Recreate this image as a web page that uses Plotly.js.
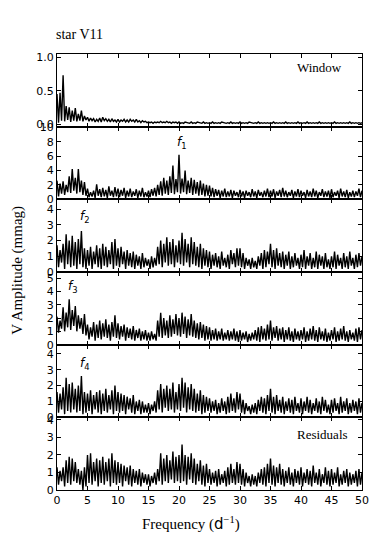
<!DOCTYPE html>
<html>
<head>
<meta charset="utf-8">
<script src="https://cdn.plot.ly/plotly-3.0.1.min.js"></script>
<style>
    body { margin: 0; background: #fff; }
    #chart { width: 382px; height: 545px; }
</style>
</head>
<body>
<div id="chart"></div>
<script>
const freq_step = 0.25;

const window_amp = [
    0.45,0.02,0.47,0.05,0.73,0.04,0.27,0.06,0.25,0.03,0.20,0.05,0.24,0.04,0.15,0.05,0.20,0.04,0.12,0.06,
    0.10,0.04,0.09,0.05,0.08,0.03,0.07,0.04,0.09,0.03,0.10,0.05,0.08,0.04,0.07,0.03,0.08,0.04,0.06,0.03,
    0.07,0.03,0.06,0.04,0.07,0.03,0.06,0.03,0.07,0.04,0.06,0.03,0.07,0.03,0.05,0.02,0.05,0.03,0.04,0.02,
    0.03,0.02,0.03,0.01,0.03,0.02,0.03,0.02,0.04,0.02,0.03,0.02,0.04,0.02,0.03,0.01,0.03,0.02,0.03,0.01,
    0.03,0.01,0.02,0.01,0.03,0.02,0.02,0.01,0.03,0.01,0.02,0.01,0.03,0.02,0.02,0.01,0.03,0.01,0.02,0.01,
    0.02,0.01,0.03,0.01,0.02,0.01,0.02,0.01,0.03,0.02,0.02,0.01,0.02,0.01,0.03,0.01,0.02,0.01,0.02,0.01,
    0.03,0.01,0.02,0.01,0.02,0.01,0.03,0.02,0.02,0.01,0.02,0.01,0.03,0.01,0.02,0.01,0.02,0.01,0.02,0.01,
    0.02,0.01,0.03,0.01,0.02,0.01,0.02,0.01,0.02,0.01,0.03,0.01,0.02,0.01,0.02,0.01,0.02,0.01,0.03,0.01,
    0.02,0.01,0.02,0.01,0.03,0.01,0.02,0.01,0.02,0.01,0.02,0.01,0.03,0.01,0.02,0.01,0.02,0.01,0.02,0.01,
    0.02,0.01,0.03,0.01,0.02,0.01,0.02,0.01,0.02,0.01,0.02,0.01,0.03,0.01,0.02,0.01,0.02,0.01,0.02,0.01,
    0.02
];

const f1_amp = [
    2.6,0.4,2.2,0.8,2.5,0.6,2.0,1.0,3.2,0.9,4.2,1.2,3.0,0.8,4.2,1.0,2.6,0.6,2.4,0.5,
    1.5,0.3,1.0,0.4,1.2,0.2,2.1,0.5,1.4,0.3,1.6,0.4,1.3,0.2,1.8,0.5,1.2,0.3,1.7,0.4,
    1.5,0.3,1.3,0.5,1.6,0.2,1.2,0.4,1.5,0.3,1.1,0.5,1.4,0.2,1.2,0.4,1.6,0.3,1.0,0.4,
    1.2,0.3,1.4,0.5,1.6,0.4,2.0,0.6,2.5,0.5,3.0,0.8,2.6,0.6,3.2,0.9,4.7,0.7,2.8,1.0,
    6.2,0.8,2.9,1.0,4.0,0.7,2.6,0.9,3.0,0.6,2.7,0.8,2.4,0.5,2.6,0.6,2.2,0.4,2.0,0.5,
    1.9,0.4,1.6,0.3,1.4,0.5,1.3,0.2,1.2,0.4,1.5,0.3,1.1,0.4,1.3,0.2,1.2,0.5,1.0,0.3,
    1.3,0.4,1.1,0.2,1.2,0.5,1.0,0.3,1.4,0.4,1.1,0.2,1.3,0.5,1.0,0.3,1.2,0.4,1.5,0.3,
    1.2,0.4,1.4,0.2,1.1,0.5,1.3,0.3,1.6,0.4,1.2,0.3,1.0,0.5,1.3,0.2,1.1,0.4,1.4,0.3,
    1.2,0.5,1.0,0.2,1.3,0.4,1.1,0.3,1.5,0.4,1.2,0.2,1.0,0.5,1.4,0.3,1.1,0.4,1.2,0.2,
    1.4,0.3,1.0,0.5,1.2,0.2,1.5,0.4,1.1,0.3,1.3,0.2,1.0,0.4,1.2,0.3,1.1,0.5,1.5,0.3,
    1.2
];

const f2_amp = [
    1.7,0.3,1.4,0.6,1.8,0.2,2.4,0.5,2.0,0.3,2.3,0.4,1.9,0.2,2.1,0.5,2.6,0.3,1.5,0.2,
    1.4,0.4,1.6,0.2,1.3,0.5,1.7,0.3,1.5,0.2,1.8,0.4,1.6,0.3,1.4,0.5,1.9,0.2,2.1,0.4,
    1.5,0.3,1.6,0.5,1.3,0.2,1.4,0.4,1.2,0.3,1.3,0.2,1.1,0.4,1.0,0.2,1.2,0.3,0.9,0.4,
    0.8,0.2,1.0,0.3,0.9,0.4,1.6,0.5,2.0,0.3,1.8,0.6,2.2,0.4,1.9,0.5,2.1,0.3,1.7,0.6,
    2.0,0.5,2.5,0.4,2.1,0.6,1.8,0.3,2.2,0.5,1.9,0.4,1.6,0.3,1.8,0.2,1.5,0.4,1.4,0.3,
    1.3,0.2,1.1,0.4,1.2,0.3,1.0,0.2,1.3,0.4,0.9,0.3,1.1,0.2,1.4,0.5,1.2,0.3,1.5,0.4,
    1.5,0.3,1.2,0.2,0.9,0.4,0.8,0.2,0.9,0.3,0.7,0.2,1.0,0.4,1.2,0.2,1.4,0.3,1.3,0.5,
    1.8,0.3,1.4,0.2,1.5,0.4,1.2,0.3,1.3,0.2,1.1,0.4,1.3,0.2,1.0,0.3,1.2,0.4,0.9,0.2,
    1.1,0.3,1.4,0.2,1.0,0.4,1.2,0.2,0.9,0.3,1.3,0.2,1.1,0.4,1.0,0.2,1.2,0.3,0.8,0.2,
    1.0,0.3,1.3,0.2,1.1,0.4,0.9,0.2,1.2,0.3,1.0,0.2,1.3,0.4,0.9,0.2,1.1,0.3,1.2,0.4,
    1.0
];

const f3_amp = [
    2.1,0.9,1.8,1.2,2.8,1.0,2.4,1.3,3.4,1.1,2.6,1.4,2.9,1.0,2.2,1.2,2.0,0.8,2.3,0.7,
    1.5,0.4,1.3,0.6,1.7,0.3,1.5,0.5,1.8,0.4,1.6,0.6,1.9,0.5,1.5,0.3,1.7,0.6,2.2,0.5,
    1.6,0.4,1.4,0.6,1.5,0.3,1.3,0.5,1.2,0.4,1.4,0.3,1.1,0.5,1.2,0.3,1.0,0.4,1.1,0.3,
    0.9,0.3,1.0,0.4,0.8,0.3,1.8,0.6,2.4,0.5,2.0,0.7,1.8,0.5,2.2,0.6,1.9,0.8,2.3,0.7,
    2.0,0.6,2.4,0.8,2.1,0.5,1.9,0.7,2.3,0.6,1.8,0.5,1.6,0.4,1.7,0.5,1.5,0.3,1.4,0.4,
    1.3,0.3,1.1,0.4,1.2,0.3,1.0,0.4,1.2,0.3,0.9,0.4,1.1,0.3,1.0,0.4,1.2,0.3,1.0,0.2,
    1.1,0.3,0.9,0.4,1.0,0.2,0.8,0.3,0.9,0.4,1.1,0.3,1.3,0.2,1.4,0.4,1.2,0.3,1.5,0.4,
    1.8,0.3,1.3,0.5,1.4,0.3,1.2,0.4,1.3,0.2,1.1,0.4,1.3,0.3,1.0,0.2,1.2,0.4,1.0,0.3,
    1.1,0.4,1.3,0.2,1.0,0.3,1.2,0.4,1.4,0.3,1.1,0.2,1.3,0.4,1.0,0.3,1.2,0.2,0.9,0.3,
    1.1,0.4,1.3,0.2,1.0,0.3,1.2,0.4,1.4,0.3,1.0,0.2,1.1,0.4,0.9,0.3,1.2,0.2,1.3,0.4,
    1.1
];

const f4_amp = [
    1.6,0.3,1.5,0.5,1.9,0.2,2.5,0.4,2.1,0.3,2.2,0.5,1.8,0.3,2.0,0.4,2.6,0.2,1.6,0.3,
    1.5,0.4,1.7,0.2,1.4,0.5,1.6,0.3,1.7,0.2,1.5,0.4,1.8,0.3,1.4,0.5,1.7,0.2,2.0,0.4,
    1.6,0.3,1.5,0.4,1.4,0.2,1.3,0.5,1.2,0.3,1.4,0.2,1.0,0.4,1.1,0.2,1.0,0.3,0.8,0.3,
    0.9,0.2,0.8,0.4,1.0,0.3,1.7,0.5,2.1,0.3,1.8,0.6,2.0,0.4,1.8,0.5,2.2,0.3,1.6,0.5,
    2.1,0.4,2.5,0.6,2.2,0.3,1.9,0.5,2.1,0.4,1.8,0.3,1.5,0.4,1.7,0.2,1.4,0.3,1.3,0.4,
    1.2,0.3,1.0,0.4,1.1,0.2,0.9,0.3,1.2,0.4,1.0,0.2,1.3,0.3,1.5,0.4,1.2,0.3,1.6,0.5,
    1.5,0.3,1.1,0.2,0.9,0.4,0.7,0.2,0.8,0.3,0.9,0.2,1.1,0.4,1.3,0.3,1.2,0.2,1.4,0.4,
    1.8,0.3,1.3,0.2,1.4,0.4,1.1,0.3,1.3,0.2,1.0,0.4,1.2,0.3,1.1,0.2,1.3,0.4,0.9,0.3,
    1.2,0.2,1.0,0.4,1.3,0.3,1.1,0.2,0.9,0.4,1.2,0.3,1.0,0.2,1.3,0.4,1.1,0.3,0.8,0.2,
    1.1,0.3,1.2,0.4,0.9,0.2,1.3,0.3,1.0,0.4,1.2,0.2,0.9,0.3,1.1,0.4,1.0,0.2,1.2,0.3,
    0.9
];

const residual_amp = [
    1.3,0.3,1.1,0.5,1.3,0.2,1.7,0.4,1.9,0.3,1.8,0.5,1.6,0.4,1.2,0.3,1.1,0.0,1.3,0.2,
    2.0,0.4,2.1,0.3,1.6,0.5,1.8,0.2,1.7,0.4,1.9,0.3,1.6,0.5,1.8,0.2,2.1,0.4,1.7,0.3,
    1.6,0.4,1.5,0.2,1.4,0.5,1.3,0.3,1.4,0.2,1.2,0.4,1.1,0.3,1.2,0.2,1.0,0.4,0.9,0.3,
    0.9,0.2,0.8,0.4,1.0,0.3,1.2,0.5,2.1,0.3,1.8,0.5,2.0,0.4,1.7,0.6,2.2,0.4,1.9,0.5,
    2.0,0.4,2.6,0.5,2.0,0.3,1.9,0.6,2.1,0.4,1.8,0.3,1.5,0.5,1.7,0.3,1.4,0.2,1.5,0.4,
    1.2,0.3,1.0,0.4,1.1,0.2,1.2,0.3,0.9,0.4,1.1,0.2,1.3,0.3,1.5,0.4,1.2,0.3,1.6,0.4,
    1.5,0.3,1.2,0.2,1.0,0.4,0.8,0.2,0.9,0.3,0.8,0.2,1.0,0.4,1.2,0.3,1.3,0.2,1.5,0.4,
    1.8,0.3,1.4,0.2,1.3,0.4,1.5,0.3,1.2,0.2,1.1,0.4,1.3,0.3,1.0,0.2,1.2,0.4,1.1,0.3,
    1.3,0.2,1.0,0.4,1.2,0.3,1.1,0.2,1.4,0.4,1.0,0.3,1.2,0.2,0.9,0.4,1.3,0.3,1.1,0.2,
    1.2,0.3,1.0,0.4,1.3,0.2,0.9,0.3,1.1,0.4,1.2,0.2,1.0,0.3,0.9,0.4,1.1,0.2,1.2,0.3,
    1.0
];

const x_ticks = [0, 5, 10, 15, 20, 25, 30, 35, 40, 45, 50];

// one entry per stacked panel, top to bottom
const panels = [
    { values: window_amp,   range: [-0.04, 1.05], dtick: 0.5, format: ".1f" },
    { values: f1_amp,       range: [0, 10.1],     dtick: 2,   format: "d" },
    { values: f2_amp,       range: [0, 4.62],     dtick: 1,   format: "d" },
    { values: f3_amp,       range: [0, 5.45],     dtick: 1,   format: "d" },
    { values: f4_amp,       range: [0, 4.58],     dtick: 1,   format: "d" },
    { values: residual_amp, range: [0, 4.15],     dtick: 1,   format: "d" },
];

const serif = "Liberation Serif, Times New Roman, serif";
const sans = "DejaVu Sans, sans-serif";

let traces = [];
let layout = {
    width: 382,
    height: 545,
    margin: { l: 57, r: 20, t: 54, b: 55 },
    paper_bgcolor: "#fff",
    plot_bgcolor: "#fff",
    showlegend: false,
    font: { family: sans, size: 11, color: "#000" },
    annotations: [],
};

let n = panels.length;
for (let i = 0; i < n; i++)
{
    let p = panels[i];
    let suffix = i == 0 ? "" : String(i + 1);

    let freqs = p.values.map((v, k) => k * freq_step);
    traces.push({
        type: "scatter",
        mode: "lines",
        x: freqs,
        y: p.values,
        xaxis: "x" + suffix,
        yaxis: "y" + suffix,
        line: { color: "#000", width: 1.4 },
        hoverinfo: "skip",
    });

    let top = 1 - i / n, bottom = 1 - (i + 1) / n;
    let is_last = (i == n - 1);

    layout["xaxis" + suffix] = {
        domain: [0, 1],
        anchor: "y" + suffix,
        range: [0, 50],
        tickvals: x_ticks,
        showticklabels: is_last,
        ticks: "inside",
        ticklen: 4,
        tickcolor: "#000",
        showline: true,
        linecolor: "#000",
        linewidth: 1,
        mirror: "allticks",
        showgrid: false,
        zeroline: false,
        tickfont: { family: sans, size: 11, color: "#000" },
    };
    layout["yaxis" + suffix] = {
        domain: [bottom, top],
        anchor: "x" + suffix,
        range: p.range,
        dtick: p.dtick,
        tick0: 0,
        tickformat: p.format,
        ticks: "inside",
        ticklen: 4,
        tickcolor: "#000",
        showline: true,
        linecolor: "#000",
        linewidth: 1,
        mirror: "allticks",
        showgrid: false,
        zeroline: false,
        tickfont: { family: sans, size: 11, color: "#000" },
    };
}

let note = (text, x, y, font) => ({
    text, x, y, xref: "paper", yref: "paper",
    showarrow: false, xanchor: "center", yanchor: "middle", font,
});

layout.annotations.push(
    Object.assign(note("star V11", -0.01, 1.044, { family: serif, size: 14, color: "#000" }), { xanchor: "left" }),
    note("Window", 0.862, 0.970, { family: serif, size: 13, color: "#000" }),
    note("Residuals", 0.869, 0.128, { family: serif, size: 13, color: "#000" }),
    note("<i>f</i><sub>1</sub>", 0.41, 0.796, { family: sans, size: 12, color: "#000" }),
    note("<i>f</i><sub>2</sub>", 0.093, 0.627, { family: sans, size: 12, color: "#000" }),
    note("<i>f</i><sub>3</sub>", 0.052, 0.466, { family: sans, size: 12, color: "#000" }),
    note("<i>f</i><sub>4</sub>", 0.093, 0.29, { family: sans, size: 12, color: "#000" }),
    Object.assign(note("V Amplitude (mmag)", -0.128, 0.505, { family: serif, size: 15, color: "#000" }), { textangle: -90 }),
    note("Frequency (<span style='font-family:DejaVu Sans'>d</span><sup>−1</sup>)", 0.438, -0.076, { family: serif, size: 15, color: "#000" })
);

Plotly.newPlot("chart", traces, layout, { staticPlot: true, displayModeBar: false });
</script>
</body>
</html>
